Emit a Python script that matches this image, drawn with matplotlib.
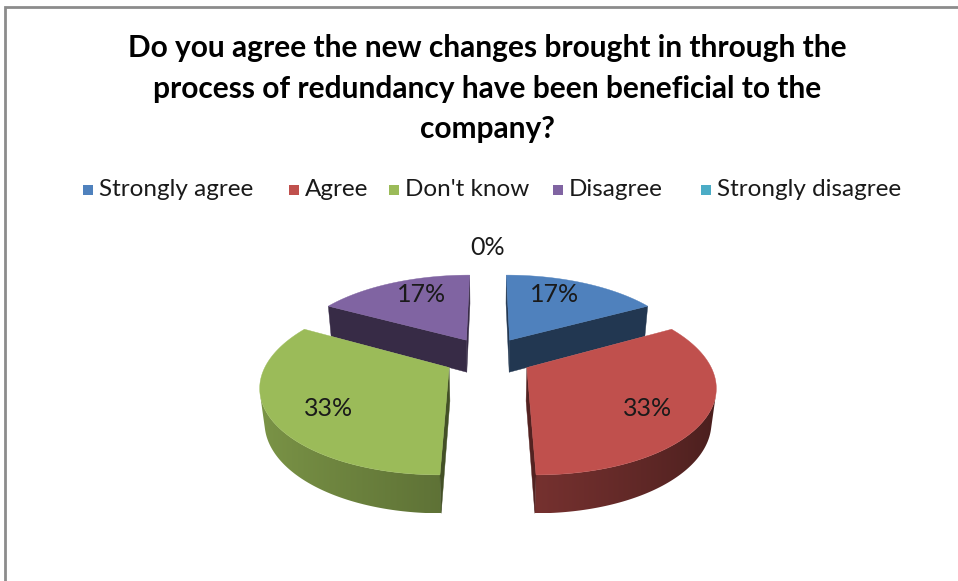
import numpy as np
import matplotlib.pyplot as plt
import matplotlib.colors as mcolors
from matplotlib.patches import Polygon, Rectangle

categories = ['Strongly agree', 'Agree', "Don't know", 'Disagree', 'Strongly disagree']
percent = [17, 33, 33, 17, 0]
colors = ['#4F81BD', '#C0504D', '#9BBB59', '#8064A2', '#4BACC6']
title = ('Do you agree the new changes brought in through the\n'
         'process of redundancy have been beneficial to the\n'
         'company?')

plt.rcParams['font.family'] = ['Lato', 'DejaVu Sans']

W, H = 958, 581
fig = plt.figure(figsize=(W / 100, H / 100), dpi=100)
ax = fig.add_axes([0, 0, 1, 1])
ax.set_xlim(0, W)
ax.set_ylim(H, 0)
ax.axis('off')

# chart area frame (top and left edges only)
ax.plot([5.5, 5.5, W], [H, 6.5, 6.5], color='#8c8c8c', lw=2,
        solid_joinstyle='miter', zorder=0)

# simple perspective camera for the 3-D pie
cx, cy = 488, 357
elev = np.radians(27.4)
dist = 4.77
focal = 859
depth = 0.21
explode = 0.245
cam = np.array([0.0, dist * np.sin(elev), dist * np.cos(elev)])


def project(p):
    p = np.asarray(p, dtype=float)
    X, Y, Z = p[..., 0], p[..., 1], p[..., 2]
    u = Y * np.cos(elev) - Z * np.sin(elev)
    d = dist - (Z * np.cos(elev) + Y * np.sin(elev))
    return np.stack([cx + focal * X / d, cy - focal * u / d], axis=-1)


def shade(color, theta):
    # light coming from the left
    k = 0.57 - 0.22 * np.sin(theta) - 0.04 * np.cos(theta)
    return np.clip(np.array(mcolors.to_rgb(color)) * k, 0, 1)


def darken(color, k=0.43):
    return np.array(mcolors.to_rgb(color)) * k


def direction(t):
    return np.array([np.sin(t), 0.0, -np.cos(t)])


def facing(normal, point):
    return np.dot(normal, cam - point) > 0


total = float(sum(percent))
angles = np.concatenate([[0], np.cumsum(percent) / total * 2 * np.pi])

slices = []
for i, val in enumerate(percent):
    if val <= 0:
        continue
    t1, t2 = angles[i], angles[i + 1]
    off = explode * direction(0.5 * (t1 + t2))
    ts = np.linspace(t1, t2, 120)
    top = np.array([direction(t) for t in ts]) + off
    bot = top + np.array([0, -depth, 0])
    c_top = off.copy()
    c_bot = off + np.array([0, -depth, 0])

    # visible part of the curved outer wall
    tm = 0.5 * (ts[:-1] + ts[1:])
    vis = [j for j in range(len(tm))
           if facing(direction(tm[j]), 0.5 * (top[j] + bot[j + 1]))]
    wall = None
    if vis:
        a, b = vis[0], vis[-1] + 1
        outline = project(np.vstack([top[a:b + 1], bot[a:b + 1][::-1]]))
        xs = project(0.5 * (top[a:b] + top[a + 1:b + 1]))[:, 0]
        cols = np.array([shade(colors[i], t) for t in tm[a:b]])
        wall = (outline, xs, cols)

    cuts = []
    for rim_t, rim_b, nt in [(top[0], bot[0], t1 - np.pi / 2),
                             (top[-1], bot[-1], t2 + np.pi / 2)]:
        quad = np.array([c_top, rim_t, rim_b, c_bot])
        if facing(direction(nt), quad.mean(axis=0)):
            cuts.append((project(quad), darken(colors[i])))

    face = project(np.vstack([c_top, top]))
    centre = np.vstack([top, c_top]).mean(axis=0)
    slices.append((np.linalg.norm(cam - centre), i, wall, cuts, face))

z = 1
for _, i, wall, cuts, face in sorted(slices, key=lambda s: -s[0]):
    if wall is not None:
        outline, xs, cols = wall
        x0, x1 = outline[:, 0].min(), outline[:, 0].max()
        y0, y1 = outline[:, 1].min(), outline[:, 1].max()
        gx = np.linspace(x0, x1, 400)
        order = np.argsort(xs)
        grad = np.stack([np.interp(gx, xs[order], cols[order, k])
                         for k in range(3)], axis=-1)[None, :, :]
        clip = Polygon(outline, closed=True, transform=ax.transData)
        im = ax.imshow(grad, extent=(x0, x1, y1, y0), aspect='auto',
                       interpolation='bilinear', zorder=z)
        im.set_clip_path(clip)
        z += 1
    for quad, col in cuts:
        ax.add_patch(Polygon(quad, closed=True, facecolor=col, edgecolor=col,
                             lw=0.3, zorder=z))
        z += 1
    ax.add_patch(Polygon(face, closed=True, facecolor=colors[i],
                         edgecolor=colors[i], lw=0.3, zorder=z))
    z += 1

ax.set_xlim(0, W)
ax.set_ylim(H, 0)

# percentage labels, pulled a little toward the front/back axis
for i, val in enumerate(percent):
    mid = 0.5 * (angles[i] + angles[i + 1])
    off = explode * direction(mid)
    if val > 0:
        t = mid - 0.12 * np.sin(2 * mid)
        pos = off + 0.725 * direction(t)
    else:
        pos = (explode + 1.5) * direction(mid)
    x, y = project(pos)
    ax.text(x, y, f'{val:.0f}%', ha='center', va='center', fontsize=18,
            color='#1a1a1a', zorder=50)

# title
fig.text(487 / W, 1 - 34 / H, title, ha='center', va='top', fontsize=21.5,
         fontweight='bold', linespacing=1.55, color='black')

# legend
leg_x = [83, 289, 389, 553, 701]
for i, name in enumerate(categories):
    ax.add_patch(Rectangle((leg_x[i], 184.5), 10, 10, facecolor=colors[i],
                           edgecolor='none', zorder=50))
    ax.text(leg_x[i] + 16, 189.5, name, ha='left', va='center', fontsize=17.5,
            color='#1a1a1a', zorder=50)

fig.savefig('out.png', dpi=100)
